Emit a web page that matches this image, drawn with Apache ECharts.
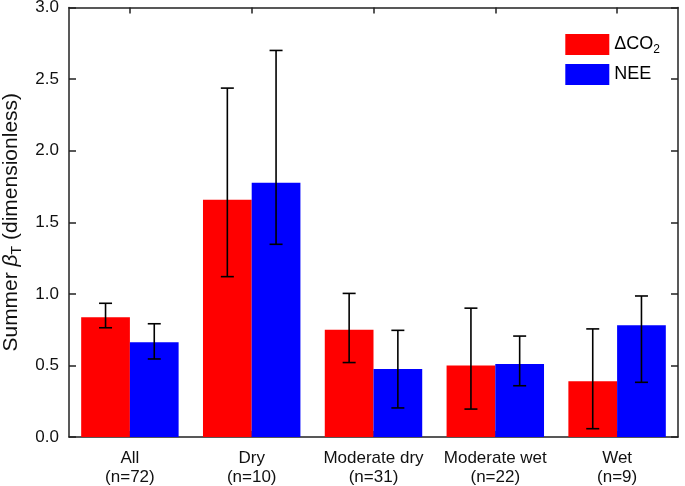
<!DOCTYPE html>
<html><head><meta charset="utf-8">
<script src="https://cdn.jsdelivr.net/npm/echarts@6/dist/echarts.min.js"></script>
<style>html,body{margin:0;padding:0;background:#fff}#c{width:685px;height:486px}</style>
</head><body><div id="c"></div>
<script>
const categories = ['All\n(n=72)', 'Dry\n(n=10)', 'Moderate dry\n(n=31)', 'Moderate wet\n(n=22)', 'Wet\n(n=9)'];
const co2Values = [0.836, 1.657, 0.75, 0.50, 0.39];
const co2Low = [0.763, 1.12, 0.52, 0.195, 0.058];
const co2High = [0.934, 2.437, 1.003, 0.90, 0.755];
const neeValues = [0.661, 1.776, 0.475, 0.51, 0.78];
const neeLow = [0.545, 1.346, 0.203, 0.358, 0.382];
const neeHigh = [0.791, 2.70, 0.745, 0.705, 0.985];
const yTicks = [0, 0.5, 1.0, 1.5, 2.0, 2.5, 3.0];

const font = 'Liberation Sans, Arial, sans-serif';
const chart = echarts.init(document.getElementById('c'), null, {renderer: 'canvas'});

function errSeries(low, high, side) {
  return {
    type: 'custom',
    xAxisIndex: 0, yAxisIndex: 0,
    z: 10,
    data: low.map((l, i) => [i, l, high[i]]),
    renderItem: function (params, api) {
      const i = api.value(0);
      const band = api.size([1, 0])[0];
      const off = side * 0.2 * band;
      const pLow = api.coord([i, api.value(1)]);
      const pHigh = api.coord([i, api.value(2)]);
      const x = pLow[0] + off;
      const cap = 6.5;
      const style = {stroke: '#000', lineWidth: 1.6};
      return {
        type: 'group',
        children: [
          {type: 'line', shape: {x1: x, y1: pLow[1], x2: x, y2: pHigh[1]}, style: style},
          {type: 'line', shape: {x1: x - cap, y1: pLow[1], x2: x + cap, y2: pLow[1]}, style: style},
          {type: 'line', shape: {x1: x - cap, y1: pHigh[1], x2: x + cap, y2: pHigh[1]}, style: style}
        ]
      };
    }
  };
}

const axisLine = {show: true, onZero: false, lineStyle: {color: '#222', width: 1.5}};
chart.setOption({
  animation: false,
  backgroundColor: '#fff',
  textStyle: {fontFamily: font},
  grid: {left: 69, right: 7, top: 7.5, bottom: 49, containLabel: false, outerBoundsMode: 'none'},
  legend: {
    right: 20, top: 29,
    orient: 'vertical',
    itemWidth: 44, itemHeight: 21, itemGap: 8,
    icon: 'rect',
    data: ['dCO2', 'NEE'],
    formatter: function (n) { return n === 'dCO2' ? '{a|ΔCO}{s|2}' : '{a|NEE}'; },
    textStyle: {
      fontFamily: font, color: '#000',
      rich: {
        a: {fontSize: 18, fontFamily: font, color: '#000'},
        s: {fontSize: 12, fontFamily: font, color: '#000', verticalAlign: 'bottom', padding: [11, 0, 0, 0]}
      }
    }
  },
  xAxis: [{
    type: 'category', data: categories, position: 'bottom',
    axisLine: axisLine,
    axisTick: {show: true, inside: true, length: 6, alignWithLabel: true, lineStyle: {color: '#222', width: 1.5}},
    axisLabel: {fontSize: 17, color: '#111', fontFamily: font, margin: 12, lineHeight: 19, interval: 0}
  }, {
    type: 'category', data: categories, position: 'top',
    axisLine: axisLine,
    axisTick: {show: true, inside: true, length: 6, alignWithLabel: true, lineStyle: {color: '#222', width: 1.5}},
    axisLabel: {show: false}
  }],
  yAxis: [{
    type: 'value', min: 0, max: 3, interval: 0.5, position: 'left',
    axisLine: axisLine,
    splitLine: {show: false},
    axisTick: {show: true, inside: true, length: 7, lineStyle: {color: '#222', width: 1.5}},
    axisLabel: {fontSize: 17, color: '#111', fontFamily: font, margin: 10,
      formatter: v => v.toFixed(1)},
    name: '{a|Summer }{b|β}{s|T}{a| (dimensionless)}',
    nameLocation: 'middle', nameGap: 44, nameRotate: 90,
    nameTextStyle: {
      fontFamily: font, color: '#111',
      rich: {
        a: {fontSize: 21, fontFamily: font, color: '#111'},
        b: {fontSize: 21, fontFamily: font, fontStyle: 'italic', color: '#111'},
        s: {fontSize: 14, fontFamily: font, color: '#111', verticalAlign: 'bottom', padding: [12, 0, 0, 0]}
      }
    }
  }, {
    type: 'value', min: 0, max: 3, interval: 0.5, position: 'right',
    axisLine: axisLine,
    splitLine: {show: false},
    axisTick: {show: true, inside: true, length: 7, lineStyle: {color: '#222', width: 1.5}},
    axisLabel: {show: false}
  }],
  series: [
    {name: 'dCO2', type: 'bar', data: co2Values, barWidth: '40%', barGap: '0%',
      itemStyle: {color: '#ff0000'}},
    {name: 'NEE', type: 'bar', data: neeValues, barWidth: '40%', barGap: '0%',
      itemStyle: {color: '#0000ff'}},
    errSeries(co2Low, co2High, -1),
    errSeries(neeLow, neeHigh, 1)
  ]
});
</script></body></html>
